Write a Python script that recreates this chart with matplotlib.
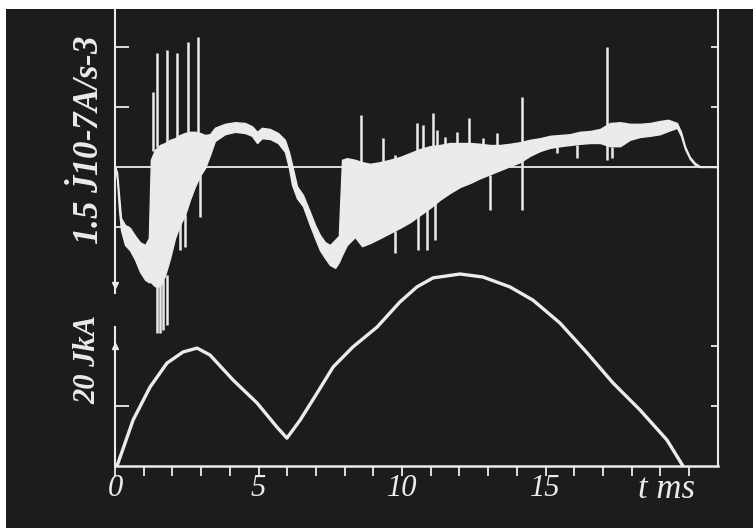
import numpy as np
import matplotlib
matplotlib.use("Agg")
import matplotlib.pyplot as plt
from matplotlib.patches import Rectangle

plt.rcParams['font.family'] = ['Liberation Serif', 'DejaVu Serif']
plt.rcParams['mathtext.fontset'] = 'custom'
plt.rcParams['mathtext.rm'] = 'Liberation Serif:italic:bold'
plt.rcParams['mathtext.it'] = 'Liberation Serif:italic:bold'

# lower trace: discharge current J, kA (20 kA per division)
cur_t = [0.07, 0.63, 1.22, 1.81, 2.37, 2.86, 3.31, 4.11, 4.95, 5.64, 5.99,
         6.45, 7.04, 7.60, 8.29, 9.13, 9.93, 10.52, 11.08, 12.02, 12.82,
         13.76, 14.56, 15.50, 16.45, 17.35, 18.29, 19.23, 19.79]
cur_ka = [0.0, 15.3, 26.3, 34.3, 38.0, 39.3, 37.0, 28.7, 21.0, 13.0, 9.3,
          15.3, 24.3, 33.0, 39.7, 46.3, 54.7, 59.7, 62.7, 64.0, 63.0,
          59.7, 55.3, 47.7, 37.7, 27.7, 18.7, 8.7, 0.0]

# upper trace: dJ/dt in 1e7 A/s (1.5 per division), noisy band envelope
env_t = [0.00, 0.07, 0.14, 0.21, 0.35, 0.52, 0.70, 0.87, 1.05, 1.18, 1.25,
         1.39, 1.57, 1.74, 1.92, 2.09, 2.26, 2.44, 2.61, 2.79, 2.96, 3.14,
         3.31, 3.48, 3.83, 4.18, 4.53, 4.77, 4.95, 5.12, 5.40, 5.68, 5.92,
         6.06, 6.17, 6.34, 6.55, 6.79, 6.97, 7.14, 7.32, 7.49, 7.67, 7.80,
         7.91, 8.08, 8.36, 8.61, 8.89, 9.23, 9.58, 9.93, 10.28, 10.63, 10.98,
         11.32, 11.67, 12.02, 12.37, 12.72, 13.07, 13.41, 13.76, 14.11, 14.46,
         14.81, 15.16, 15.51, 15.85, 16.20, 16.55, 16.90, 17.25, 17.60, 17.94,
         18.29, 18.64, 18.99, 19.27, 19.58, 19.72, 19.86, 20.03, 20.21, 20.38,
         21.01]
env_hi = [0.00, -0.12, -0.70, -1.28, -1.45, -1.52, -1.72, -1.88, -1.95, -1.78, 0.18,
          0.43, 0.55, 0.60, 0.68, 0.72, 0.80, 0.85, 0.88, 0.88, 0.85, 0.80,
          0.82, 0.98, 1.08, 1.12, 1.10, 1.02, 0.88, 0.98, 0.95, 0.85, 0.68,
          0.38, 0.05, -0.48, -0.70, -1.12, -1.45, -1.70, -1.88, -1.95, -1.82, -1.72,
          0.18, 0.22, 0.18, 0.12, 0.08, 0.12, 0.18, 0.25, 0.35, 0.45, 0.52,
          0.55, 0.60, 0.60, 0.60, 0.58, 0.55, 0.55, 0.58, 0.62, 0.68,
          0.72, 0.78, 0.80, 0.82, 0.88, 0.90, 0.95, 1.10, 1.12, 1.08,
          1.08, 1.10, 1.15, 1.18, 1.10, 0.88, 0.52, 0.25, 0.10, 0.02,
          0.00]
env_lo = [0.00, -0.32, -1.08, -1.58, -1.95, -2.08, -2.32, -2.62, -2.82, -2.88, -2.88,
          -2.98, -2.98, -2.72, -2.28, -1.78, -1.45, -1.20, -0.82, -0.48, -0.22, -0.02,
          0.30, 0.65, 0.82, 0.88, 0.85, 0.78, 0.60, 0.72, 0.70, 0.60, 0.38,
          -0.02, -0.45, -0.78, -0.98, -1.45, -1.78, -2.08, -2.28, -2.45, -2.52, -2.38,
          -2.20, -1.95, -1.75, -1.98, -1.90, -1.78, -1.65, -1.52, -1.38, -1.20, -1.02,
          -0.82, -0.65, -0.50, -0.40, -0.28, -0.18, -0.08, 0.02, 0.12, 0.28,
          0.40, 0.48, 0.52, 0.55, 0.58, 0.60, 0.60, 0.52, 0.52, 0.68,
          0.75, 0.78, 0.82, 0.90, 0.98, 0.78, 0.45, 0.20, 0.05, 0.00,
          0.00]

# isolated spikes on the dJ/dt trace
spike_t = [1.32, 1.46, 1.81, 2.16, 2.54, 2.89, 8.57, 9.34, 9.76, 10.52, 10.73,
           11.08, 11.22, 11.50, 11.92, 12.33, 12.82, 13.31, 14.18, 17.14,
           1.46, 1.57, 1.67, 1.81, 2.26, 2.44, 2.96, 9.76, 10.56, 10.87,
           11.15, 13.07, 15.40, 16.10, 17.32]
spike_lo = [0.4, 0.5, 0.6, 0.7, 0.8, 0.8, 0.1, 0.1, 0.15, 0.4, 0.45,
            0.5, 0.5, 0.55, 0.6, 0.6, 0.55, 0.55, -1.08, 0.18,
            -4.15, -4.15, -4.08, -3.95, -2.08, -2.00, -1.25, -2.15, -2.08, -2.08,
            -1.82, -1.08, 0.35, 0.22, 0.22]
spike_hi = [1.88, 2.85, 2.92, 2.85, 3.12, 3.25, 1.30, 0.72, 0.30, 1.10, 1.05,
            1.35, 0.92, 0.75, 0.88, 1.22, 0.72, 0.85, 1.75, 3.00,
            -2.9, -2.9, -2.8, -2.7, -1.4, -1.2, -0.2, -1.6, -1.2, -1.0,
            -0.9, -0.2, 0.5, 0.55, 0.5]

xtick_pos = [0, 5, 10, 15]
xtick_lab = ['0', '5', '10', '15']

bg = '#1d1b1b'
fg = '#ebebeb'

fig = plt.figure(figsize=(7.53, 5.28), dpi=100)
fig.patch.set_facecolor('white')
fig.patches.append(Rectangle((6 / 753, 0), 1, 1 - 9 / 528, transform=fig.transFigure,
                             facecolor=bg, edgecolor='none', zorder=-10))

rect = [115 / 753, 62 / 528, 603 / 753, 456 / 528]
xmax = 603 / 28.7

# current axes (lower trace)
ax = fig.add_axes(rect)
ax.set_facecolor('none')
ax.set_xlim(0, xmax)
ax.set_ylim(0, 152)
ax.plot(cur_t, cur_ka, color=fg, lw=2.4, solid_capstyle='round',
        solid_joinstyle='round')
for s in ['top', 'right']:
    ax.spines[s].set_visible(False)
ax.spines['left'].set_bounds(0, 46.3)
ax.spines['left'].set_color(fg)
ax.spines['bottom'].set_color(fg)
ax.spines['left'].set_linewidth(1.5)
ax.spines['bottom'].set_linewidth(1.8)
ax.set_yticks([20])
ax.set_yticklabels([])
ax.tick_params(axis='y', direction='in', length=10, width=1.3, color=fg)
ax.set_xticks(range(0, 21))
ax.set_xticklabels([])
ax.tick_params(axis='x', direction='out', length=7, width=1.3, color=fg)
ax.plot([0], [40], marker='^', ms=5, color=fg, clip_on=False)
for p, lab in zip(xtick_pos, xtick_lab):
    ax.text(p, -23 / 3, lab, ha='center', va='center', color=fg,
            fontsize=22, style='italic')
ax.text(19.2, -23 / 3, 't ms', ha='center', va='center', color=fg,
        fontsize=25, style='italic')

axr = ax.twinx()
axr.set_ylim(0, 152)
for s in ['top', 'left', 'bottom']:
    axr.spines[s].set_visible(False)
axr.spines['right'].set_color(fg)
axr.spines['right'].set_linewidth(1.5)
axr.set_yticks([20, 40])
axr.set_yticklabels([])
axr.tick_params(axis='y', direction='in', length=5, width=1.3, color=fg)

# dJ/dt axes (upper trace)
axt = fig.add_axes(rect, sharex=ax)
axt.set_facecolor('none')
axt.set_ylim((167 - 466) / 40, (167 - 10) / 40)
axt.axhline(0, color=fg, lw=1.3, zorder=1)
axt.fill_between(env_t, env_lo, env_hi, color=fg, lw=1.0, edgecolor=fg, zorder=2)
axt.vlines(spike_t, spike_lo, spike_hi, color=fg, lw=1.8, zorder=2)
for s in ['top', 'right', 'bottom']:
    axt.spines[s].set_visible(False)
axt.spines['left'].set_bounds(-3.15, 3.925)
axt.spines['left'].set_color(fg)
axt.spines['left'].set_linewidth(1.5)
axt.set_yticks([-1.5, 1.5, 3.0])
axt.set_yticklabels([])
axt.tick_params(axis='y', direction='in', length=10, width=1.3, color=fg)
axt.tick_params(axis='x', bottom=False, labelbottom=False)
axt.plot([0], [-2.95], marker='v', ms=5, color=fg, clip_on=False)

axtr = axt.twinx()
axtr.set_ylim(axt.get_ylim())
for s in ['top', 'left', 'bottom', 'right']:
    axtr.spines[s].set_visible(False)
axtr.set_yticks([1.5, 3.0])
axtr.set_yticklabels([])
axtr.tick_params(axis='y', direction='in', length=5, width=1.3, color=fg)

fig.text(88 / 753, 1 - 140 / 528, r'1.5 $\dot{J}$10-7A/s-3', rotation=90,
         ha='center', va='center', color=fg, fontsize=25,
         style='italic', weight='bold')
fig.text(88 / 753, 1 - 360 / 528, '20 JkA', rotation=90,
         ha='center', va='center', color=fg, fontsize=22,
         style='italic', weight='bold')

fig.savefig('out.png', dpi=100, facecolor=fig.get_facecolor())
